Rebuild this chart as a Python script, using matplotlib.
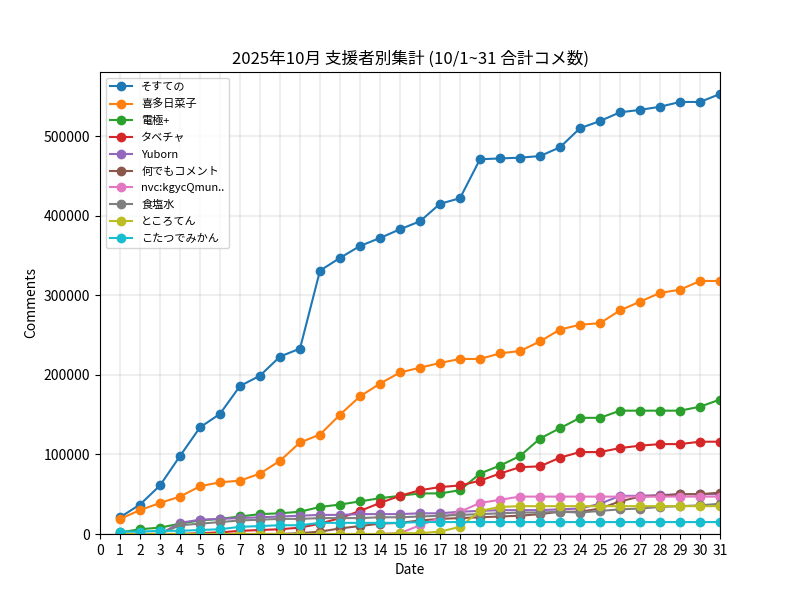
import numpy as np
import matplotlib
matplotlib.use('Agg')
import matplotlib.pyplot as plt

plt.rcParams['font.family'] = ['Noto Sans CJK JP', 'DejaVu Sans']

days = list(range(1, 32))

names = ['そすての', '喜多日菜子', '電極+', 'タベチャ', 'Yuborn',
         '何でもコメント', 'nvc:kgycQmun..', '食塩水', 'ところてん', 'こたつでみかん']

sosuteno = [21000, 37000, 61000, 98000, 134000, 151000, 186000, 199000, 223000, 233000,
            331000, 347000, 362000, 372000, 383000, 393000, 415000, 422000, 471000, 472000,
            473000, 475000, 486000, 510000, 519000, 530000, 533000, 537000, 543000, 543000, 553000]
kita = [19000, 30000, 39000, 47000, 60000, 65000, 67000, 76000, 92000, 115000,
        125000, 150000, 173000, 189000, 203000, 209000, 215000, 220000, 220000, 227000,
        230000, 242000, 257000, 263000, 265000, 281000, 292000, 303000, 307000, 318000, 318000]
denkyoku = [2000, 6000, 8000, 13000, 17000, 19000, 22000, 25000, 26000, 28000,
            34000, 37000, 41000, 45000, 48000, 51000, 51000, 55000, 76000, 86000,
            98000, 120000, 133000, 146000, 146000, 155000, 155000, 155000, 155000, 160000, 169000]
tabecha = [0, 0, 0, 0, 1000, 2000, 4000, 5000, 6000, 8000,
           13000, 20000, 29000, 39000, 48000, 55000, 59000, 61000, 67000, 76000,
           84000, 85000, 96000, 103000, 103000, 108000, 111000, 113000, 113000, 116000, 116000]
yuborn = [0, 0, 0, 14000, 18000, 19000, 20000, 21000, 22000, 23000,
          24000, 24000, 25000, 25000, 25000, 26000, 26000, 28000, 29000, 30000,
          30000, 30000, 31000, 32000, 38000, 48000, 48000, 49000, 50000, 50000, 50000]
nandemo = [0, 0, 0, 0, 0, 0, 0, 0, 0, 1000,
           3000, 7000, 10000, 13000, 14000, 17000, 19000, 20000, 21000, 22000,
           23000, 25000, 28000, 28000, 32000, 41000, 47000, 48000, 50000, 50000, 52000]
nvc = [0, 0, 0, 0, 0, 0, 0, 0, 0, 0,
       0, 0, 0, 0, 1000, 11000, 20000, 28000, 39000, 43000,
       47000, 47000, 47000, 47000, 47000, 47000, 47000, 47000, 47000, 47000, 47000]
shokuen = [0, 0, 0, 11000, 13000, 15000, 17000, 18000, 19000, 19000,
           20000, 20000, 20000, 21000, 21000, 22000, 23000, 24000, 25000, 26000,
           27000, 27000, 28000, 27000, 29000, 31000, 32000, 34000, 35000, 36000, 38000]
tokoroten = [0, 0, 0, 0, 0, 0, 0, 0, 0, 0,
             0, 0, 0, 0, 1000, 1000, 3000, 9000, 29000, 34000,
             35000, 35000, 35000, 35000, 35000, 35000, 35000, 35000, 35000, 35000, 35000]
kotatsu = [3000, 3000, 4000, 4000, 5000, 6000, 9000, 10000, 11000, 11000,
           14000, 14000, 14000, 14000, 14000, 15000, 15000, 15000, 15000, 15000,
           15000, 15000, 15000, 15000, 15000, 15000, 15000, 15000, 15000, 15000, 15000]

series = [sosuteno, kita, denkyoku, tabecha, yuborn, nandemo, nvc, shokuen, tokoroten, kotatsu]

fig, ax = plt.subplots(figsize=(8, 6), dpi=100)

for name, vals in zip(names, series):
    ax.plot(days, vals, marker='o', label=name)

ax.set_title('2025年10月 支援者別集計 (10/1~31 合計コメ数)')
ax.set_xlabel('Date')
ax.set_ylabel('Comments')
ax.set_xticks(range(0, 32))
ax.set_xlim(0, 31)
ax.set_ylim(bottom=0)
ax.grid(True, linewidth=1.5, alpha=0.2)
ax.legend(loc='upper left', fontsize=8, labelspacing=0.6)

fig.savefig('out.png')
